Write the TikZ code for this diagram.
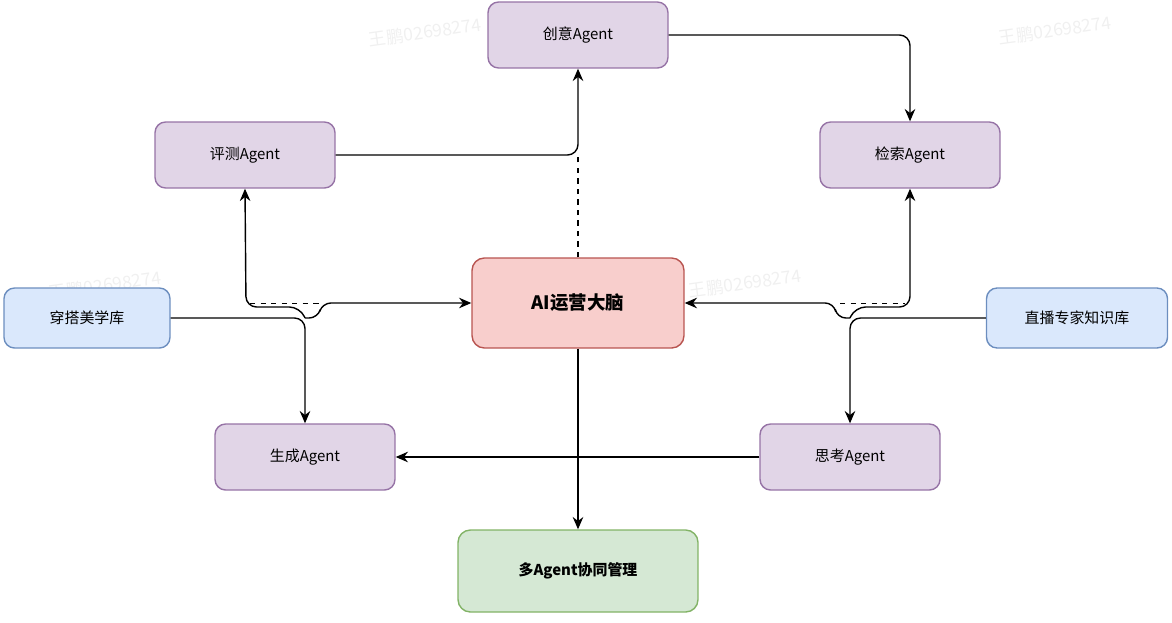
\documentclass[tikz,border=0pt]{standalone}
\usepackage{fontspec}
\setmainfont{Noto Sans CJK SC}
\usetikzlibrary{arrows.meta}
\definecolor{agentfill}{HTML}{E1D5E7}
\definecolor{agentline}{HTML}{9673A6}
\definecolor{basefill}{HTML}{DAE8FC}
\definecolor{baseline}{HTML}{6C8EBF}
\definecolor{brainfill}{HTML}{F8CECC}
\definecolor{brainline}{HTML}{B85450}
\definecolor{multifill}{HTML}{D5E8D4}
\definecolor{multiline}{HTML}{82B366}
\begin{document}
\begin{tikzpicture}[x=0.02cm, y=-0.02cm, thick, >={Stealth[length=7pt,width=6pt]},
    agent/.style={rectangle, rounded corners=6pt, draw=agentline, fill=agentfill, minimum width=3.6cm, minimum height=1.32cm, font=\fontsize{8.5}{10}\selectfont},
    base/.style={rectangle, rounded corners=6pt, draw=baseline, fill=basefill, minimum width=3.32cm, minimum height=1.2cm, font=\fontsize{8.5}{10}\selectfont},
    wmark/.style={text=gray!12, rotate=8, font=\fontsize{10}{12}\selectfont}]
    \useasboundingbox (0,0) rectangle (1172,622);

    % watermarks
    \node[wmark] (w1) at (425,32) {王鹏02698274};
    \node[wmark] (w2) at (1055,30) {王鹏02698274};
    \node[wmark] (w3) at (105,285) {王鹏02698274};
    \node[wmark] (w4) at (745,283) {王鹏02698274};

    % agents
    \node[agent] (idea) at (578,35) {创意Agent};
    \node[agent] (eval) at (245,155) {评测Agent};
    \node[agent] (search) at (910,155) {检索Agent};
    \node[agent] (gen) at (305,457) {生成Agent};
    \node[agent] (think) at (850,457) {思考Agent};

    % knowledge bases
    \node[base] (style) at (87,318) {穿搭美学库};
    \node[base, minimum width=3.62cm] (live) at (1077,318) {直播专家知识库};

    % brain and manager
    \node[rectangle, rounded corners=7pt, draw=brainline, fill=brainfill, minimum width=4.24cm, minimum height=1.8cm, font=\fontsize{10.5}{12}\bfseries\selectfont] (brain) at (578,303) {AI运营大脑};
    \node[rectangle, rounded corners=7pt, draw=multiline, fill=multifill, minimum width=4.8cm, minimum height=1.64cm, font=\fontsize{8.5}{10}\bfseries\selectfont] (multi) at (578,571) {多Agent协同管理};

    \coordinate (top) at (578,155);
    \draw[->, rounded corners=6pt] (eval.east) -- (top) -- (idea.south);
    \draw[dashed] (brain.north) -- (top);
    \draw[->, rounded corners=6pt] (idea.east) -| (search.north);
    \draw[->] (brain.south) -- (multi.north);
    \draw[->] (think.west) -- (gen.east);

    % left side
    \coordinate (lj) at (305,318);
    \draw[->, rounded corners=6pt] (style.east) -- (lj) -- (gen.north);
    \draw[->, rounded corners=5pt] (lj) -- (318,318) -- (322,303) -- (brain.west);
    \draw[->, rounded corners=6pt] (lj) -- (300,307) -- (246,307) -- (eval.south);
    \draw[dashed, thin] (250,303) -- (320,303);

    % right side
    \coordinate (rj) at (850,318);
    \draw[->, rounded corners=6pt] (live.west) -- (rj) -- (think.north);
    \draw[->, rounded corners=5pt] (rj) -- (837,318) -- (834,303) -- (brain.east);
    \draw[->, rounded corners=6pt] (rj) -- (855,307) -- (910,307) -- (search.south);
    \draw[dashed, thin] (840,303) -- (905,303);
\end{tikzpicture}
\end{document}
